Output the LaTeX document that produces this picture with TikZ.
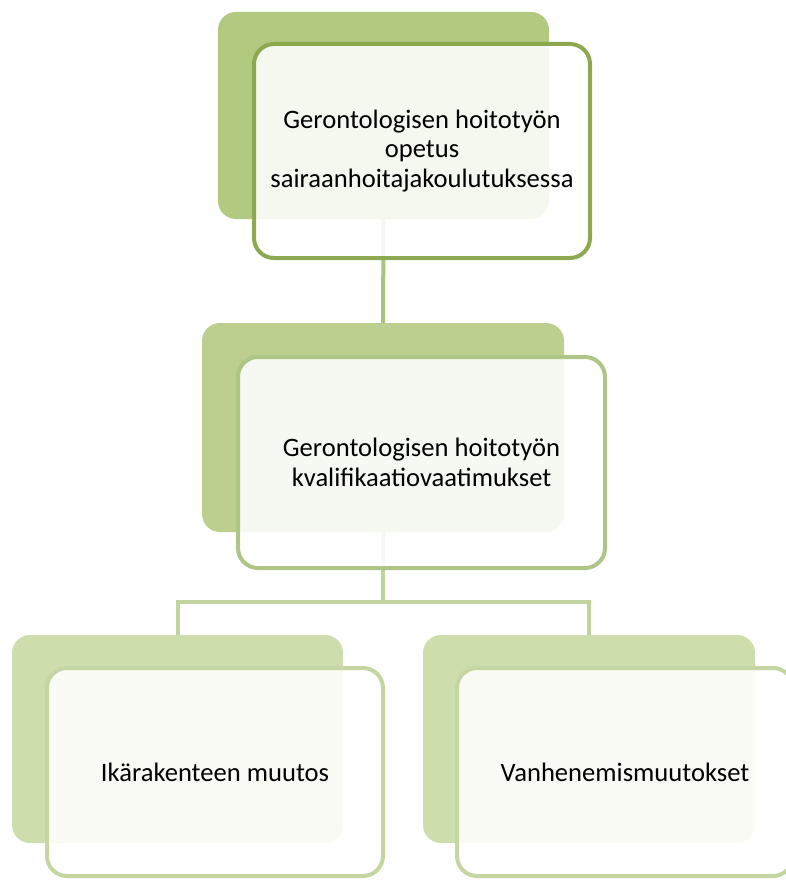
\documentclass[tikz,border=0pt]{standalone}
\usepackage{fontspec}
\setmainfont{Carlito}
\usetikzlibrary{positioning}

\definecolor{backA}{HTML}{B2C980}
\definecolor{lineA}{HTML}{8CA94F}
\definecolor{backB}{HTML}{BCCF8E}
\definecolor{lineB}{HTML}{ADC685}
\definecolor{connA}{HTML}{A9C47D}
\definecolor{connB}{HTML}{C1D49F}
\definecolor{backC}{HTML}{CEDDAC}
\definecolor{lineC}{HTML}{C5D6A3}

\begin{document}
\begin{tikzpicture}[x=1pt, y=-1pt,
    backbox/.style={rectangle, rounded corners=18pt, inner sep=0pt},
    frontbox/.style={rectangle, rounded corners=20pt, line width=4pt, fill=white, fill opacity=0.88, text opacity=1,
        inner sep=0pt, align=center, font=\fontsize{26.6}{29.5}\selectfont},
    conn/.style={line width=4pt}]

        \useasboundingbox (0, 0) rectangle (785, 880);

        \node[backbox, fill=backA, minimum width=331pt, minimum height=207pt] at (383.5, 115.5) (topback) {};
        \node[backbox, fill=backB, minimum width=362pt, minimum height=209pt] at (383, 427.5) (midback) {};
        \node[backbox, fill=backC, minimum width=331pt, minimum height=208pt] at (177.5, 739) (leftback) {};
        \node[backbox, fill=backC, minimum width=332pt, minimum height=208pt] at (589, 739) (rightback) {};

        \coordinate (fork) at (383, 602);

        \draw[conn, connA] (topback) -- (midback);
        \draw[conn, connB] (midback.south) -- (fork) -| (leftback.north);
        \draw[conn, connB] (fork) -| (rightback.north);

        \node[frontbox, draw=lineA, minimum width=336pt, minimum height=214pt] at (422, 151) (top)
            {Gerontologisen hoitotyön\\opetus\\sairaanhoitajakoulutuksessa};
        \node[frontbox, draw=lineB, minimum width=367pt, minimum height=211pt] at (421.5, 462.5) (mid)
            {Gerontologisen hoitotyön\\kvalifikaatiovaatimukset};
        \node[frontbox, draw=lineC, minimum width=336pt, minimum height=208pt] at (215, 772) (left)
            {Ikärakenteen muutos};
        \node[frontbox, draw=lineC, minimum width=336pt, minimum height=208pt] at (625, 772) (right)
            {Vanhenemismuutokset};
\end{tikzpicture}
\end{document}
